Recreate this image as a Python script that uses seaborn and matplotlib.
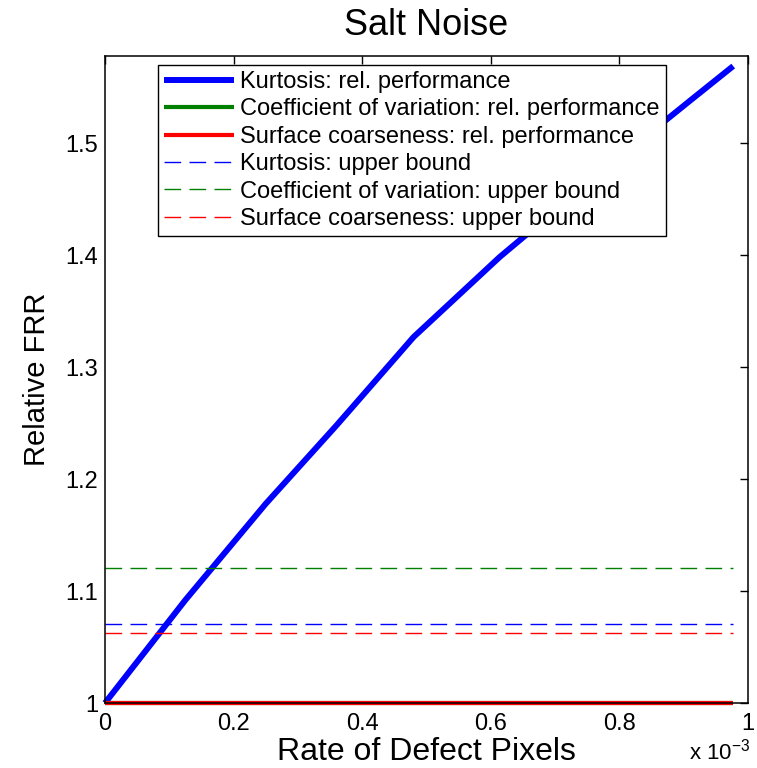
import numpy as np
import pandas as pd
import matplotlib
matplotlib.use("Agg")
import matplotlib.pyplot as plt
from matplotlib.ticker import FormatStrFormatter, MultipleLocator
import seaborn as sns

# x values in units of 1e-3 (the axis shows "x 10^-3")
rate = [0.0, 0.125, 0.25, 0.36, 0.48, 0.614, 0.75, 0.914, 0.977]
kurtosis_rel = [1.0, 1.092, 1.178, 1.248, 1.327, 1.3985, 1.464, 1.540, 1.569]
coef_var_rel = [1.0, 1.0, 1.0, 1.0, 1.0, 1.0, 1.0, 1.0, 1.0]
coarseness_rel = [1.0, 1.0, 1.0, 1.0, 1.0, 1.0, 1.0, 1.0, 1.0]

kurtosis_bound = 1.0705
coef_var_bound = 1.1203
coarseness_bound = 1.0622

labels = [
    "Kurtosis: rel. performance",
    "Coefficient of variation: rel. performance",
    "Surface coarseness: rel. performance",
    "Kurtosis: upper bound",
    "Coefficient of variation: upper bound",
    "Surface coarseness: upper bound",
]
colors = ["#0000ff", "#008000", "#ff0000"]

sns.set_style("white")
plt.rcParams['font.family'] = ['Liberation Sans', 'DejaVu Sans']
plt.rcParams['mathtext.fontset'] = 'custom'
plt.rcParams['mathtext.rm'] = 'Liberation Sans'
plt.rcParams['text.color'] = 'black'
plt.rcParams['axes.labelcolor'] = 'black'

fig = plt.figure(figsize=(7.57, 7.68), dpi=100)
ax = fig.add_axes([105 / 757, 65 / 768, 643 / 757, 647 / 768])

df = pd.DataFrame({"rate": rate, "k": kurtosis_rel, "c": coef_var_rel, "s": coarseness_rel})
bounds = [kurtosis_bound, coef_var_bound, coarseness_bound]

for col, c, lw, lab in zip(["k", "c", "s"], colors, [4.3, 3.0, 3.0], labels[:3]):
    sns.lineplot(data=df, x="rate", y=col, color=c, linewidth=lw, label=lab,
                 ax=ax, clip_on=False, solid_capstyle="butt")

for b, c, lab in zip(bounds, colors, labels[3:]):
    sns.lineplot(x=df["rate"], y=[b] * len(rate), color=c, linewidth=1.0,
                 dashes=False, ax=ax, label=lab)
    ax.lines[-1].set_dashes((12, 6))

ax.set_xlim(0, 1)
ax.set_ylim(1, 1.578)
ax.xaxis.set_major_locator(MultipleLocator(0.2))
ax.yaxis.set_major_locator(MultipleLocator(0.1))
ax.xaxis.set_major_formatter(FormatStrFormatter('%g'))
ax.yaxis.set_major_formatter(FormatStrFormatter('%g'))
ax.tick_params(direction='in', length=6, width=1, top=True, right=True,
               labelsize=17, colors='black')
ax.tick_params(axis='y', pad=5)
ax.tick_params(axis='x', pad=7)
for sp in ax.spines.values():
    sp.set_color('black')
    sp.set_linewidth(1.1)

ax.set_title("Salt Noise", fontsize=26, pad=15, color='black')
ax.set_xlabel("Rate of Defect Pixels", fontsize=23, labelpad=2)
ax.set_ylabel("Relative FRR", fontsize=21, labelpad=10)
fig.text(0.991, 0.004, "x 10$^{\\mathregular{-3}}$", fontsize=16, ha='right', va='bottom')

leg = ax.legend(loc='upper left', bbox_to_anchor=(0.082, 0.986), borderaxespad=0,
                fontsize=17, frameon=True, fancybox=False, framealpha=1,
                edgecolor='black', handlelength=3.0, handletextpad=0.25,
                labelspacing=0.23, borderpad=0.25, labelcolor='black')
leg.get_frame().set_linewidth(1.0)

fig.savefig("out.png", dpi=100)
